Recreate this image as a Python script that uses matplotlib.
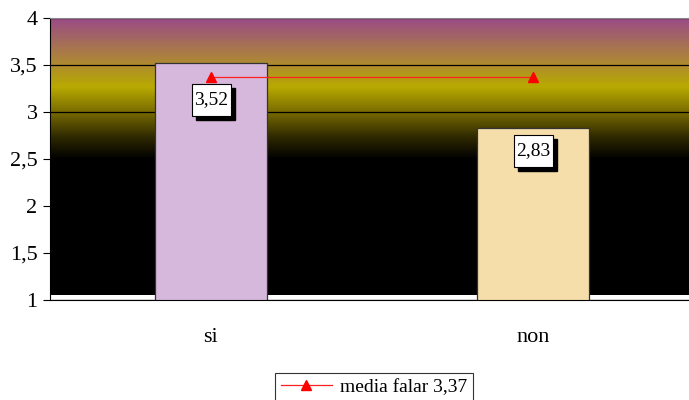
import matplotlib.pyplot as plt
import numpy as np
from matplotlib.colors import LinearSegmentedColormap
from matplotlib.patches import Rectangle
from matplotlib.transforms import ScaledTranslation

categories = ['si', 'non']
values = [3.52, 2.83]
label_texts = ['3,52', '2,83']
media = 3.37
media_label = 'media falar 3,37'
yticks = [1, 1.5, 2, 2.5, 3, 3.5, 4]
ytick_labels = ['1', '1,5', '2', '2,5', '3', '3,5', '4']
bar_colors = ['#d5b8dc', '#f5deaa']

plt.rcParams['font.family'] = ['Liberation Serif', 'DejaVu Serif']

fig = plt.figure(figsize=(6.89, 4), dpi=100)
ax = fig.add_axes([50 / 689, 0.25, 644 / 689, 282 / 400])

x = np.arange(len(categories))
ax.set_xlim(-0.5, 1.5)
ax.set_ylim(1, 4)

# gradient background (purple -> gold -> black)
grad = LinearSegmentedColormap.from_list('bg', [
    (0.0, '#000000'),
    (0.49, '#000000'),
    (0.57, '#302a00'),
    (0.66, '#7a6c00'),
    (0.75, '#b8aa00'),
    (0.86, '#ab8040'),
    (1.0, '#9a4a88'),
])
g = np.linspace(0, 1, 256).reshape(-1, 1)
ax.imshow(g, cmap=grad, aspect='auto', origin='lower',
          extent=[-0.5, 1.5, 1.05, 4], zorder=0)

ax.set_yticks(yticks)
ax.set_yticklabels(ytick_labels)
ax.grid(axis='y', color='black', linewidth=0.9, zorder=1)
ax.set_axisbelow(True)

ax.bar(x, values, width=0.345, color=bar_colors, edgecolor='#333333',
       linewidth=0.9, zorder=2)

ax.plot(x, [media] * len(x), color='#ff2020', linewidth=0.9, marker='^',
        markersize=7, markerfacecolor='#ff0000', markeredgecolor='#ff0000',
        label=media_label, zorder=3)

# value labels: white box with a black drop shadow
label_offsets = [-0.39, -0.245]
bw, bh, sh = 0.39, 0.32, 0.04  # inches
for xi, v, t, off in zip(x, values, label_texts, label_offsets):
    tr = fig.dpi_scale_trans + ScaledTranslation(xi, v + off, ax.transData)
    ax.add_patch(Rectangle((-bw / 2 + sh, -bh / 2 - sh), bw, bh,
                           facecolor='black', edgecolor='black',
                           transform=tr, zorder=4))
    ax.add_patch(Rectangle((-bw / 2, -bh / 2), bw, bh, facecolor='white',
                           edgecolor='black', linewidth=0.8,
                           transform=tr, zorder=5))
    ax.text(xi, v + off, t, ha='center', va='center', fontsize=14,
            zorder=6)

ax.set_xticks(x)
ax.set_xticklabels(categories)
ax.tick_params(axis='x', length=0, pad=20, labelsize=16)
ax.tick_params(axis='y', length=5, direction='out', labelsize=16, pad=4)

ax.spines['top'].set_color('#888888')
ax.spines['right'].set_visible(False)
ax.spines['left'].set_color('black')
ax.spines['bottom'].set_color('black')

leg = fig.legend(loc='upper center', bbox_to_anchor=(374 / 689, 1 - 363 / 400),
                 frameon=True, fancybox=False, edgecolor='black',
                 fontsize=14, handlelength=2.6, handletextpad=0.4,
                 borderpad=0.3)
leg.get_frame().set_linewidth(0.8)

fig.savefig('out.png', dpi=100)
